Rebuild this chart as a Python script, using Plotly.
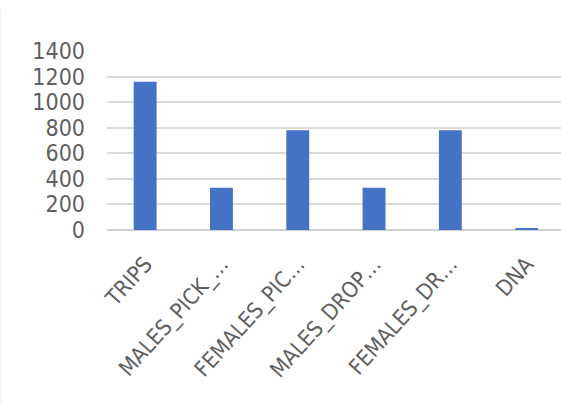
import plotly.graph_objects as go

categories = ["TRIPS", "MALES_PICK_…", "FEMALES_PIC…", "MALES_DROP…", "FEMALES_DR…", "DNA"]
values = [1160, 330, 780, 330, 780, 13]
y_ticks = [0, 200, 400, 600, 800, 1000, 1200, 1400]

FONT = "Liberation Sans Narrow, DejaVu Sans Condensed, Liberation Sans"

fig = go.Figure()
fig.add_trace(go.Bar(
    x=list(range(len(categories))),
    y=values,
    marker=dict(color="#4472C4", line=dict(width=0)),
    width=0.3,
))

fig.update_layout(
    width=561, height=403,
    margin=dict(l=107, r=0, t=51, b=173),
    paper_bgcolor="white",
    plot_bgcolor="white",
    showlegend=False,
    font=dict(family=FONT, color="#595959"),
    xaxis=dict(
        tickmode="array",
        tickvals=list(range(len(categories))),
        ticktext=categories,
        range=[-0.5, 5.45],
        tickangle=-48,
        tickfont=dict(size=22, color="#5f5f5f", family=FONT),
        showgrid=False,
        zeroline=False,
        showline=False,
        ticks="",
        ticklabelstandoff=16,
    ),
    yaxis=dict(
        range=[0, 1400],
        tickvals=y_ticks,
        tickfont=dict(size=23, color="#5f5f5f", family=FONT),
        showgrid=True,
        gridcolor="#d9d9d9",
        gridwidth=2,
        zeroline=True,
        zerolinecolor="#d0d0d0",
        zerolinewidth=2,
        showline=False,
        ticks="",
        ticklabelstandoff=21,
    ),
)

fig.add_shape(type="line", xref="paper", yref="paper",
              x0=-107/454, x1=-107/454, y0=-173/179, y1=1 + 41/179,
              line=dict(color="#efefef", width=2))

fig.write_html("out.html")
